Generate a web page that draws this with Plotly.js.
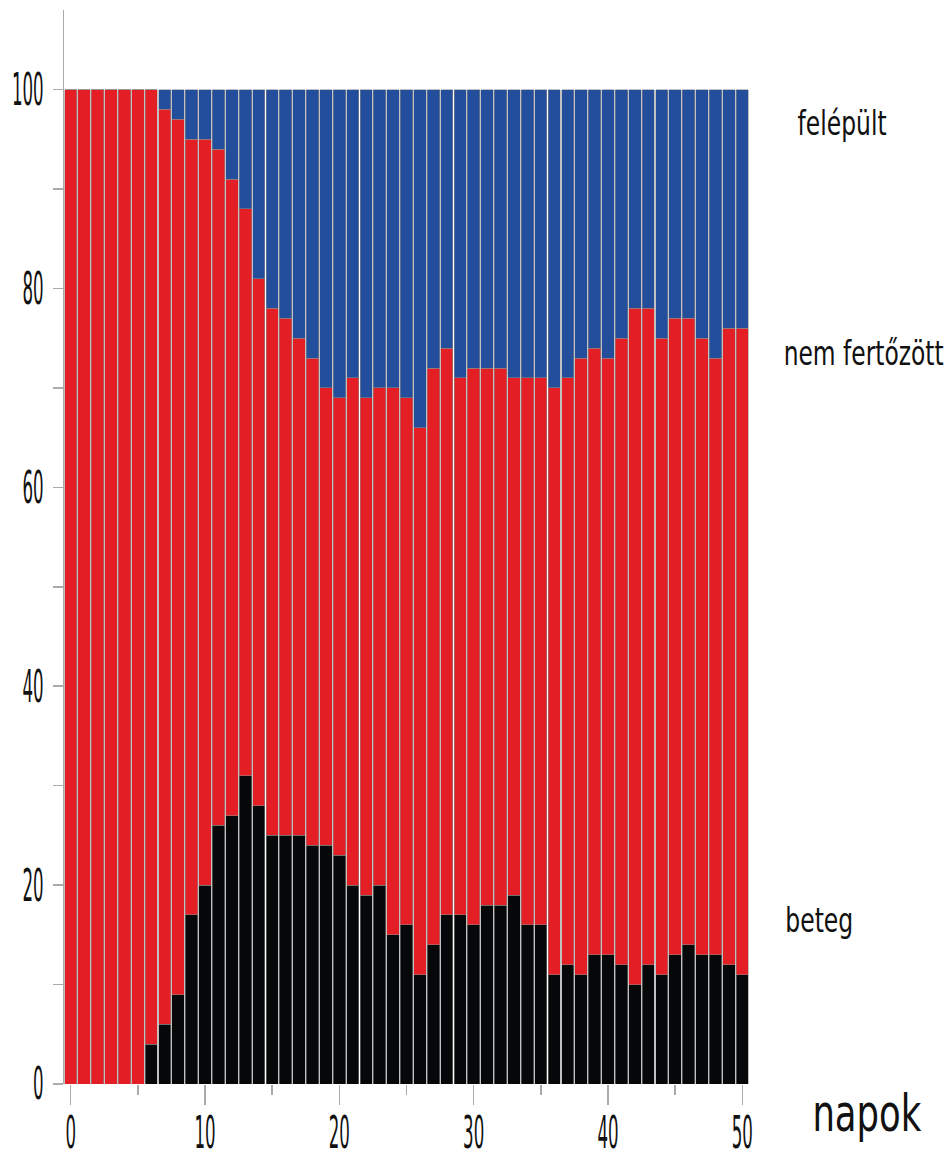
<!DOCTYPE html>
<html>
<head>
<meta charset="utf-8">
<script src="https://cdn.plot.ly/plotly-3.0.1.min.js"></script>
<style>body{margin:0;background:#fff}#chart{width:952px;height:1158px}</style>
</head>
<body>
<div id="chart"></div>
<script>
const napok = Array.from({length: 51}, (_, i) => i);
const beteg = [0,0,0,0,0,0,4,6,9,17,20,26,27,31,28,25,25,25,24,24,23,20,19,20,15,16,11,14,17,17,16,18,18,19,16,16,11,12,11,13,13,12,10,12,11,13,14,13,13,12,11];
const nemFertozott = [100,100,100,100,100,100,96,92,88,78,75,68,64,57,53,53,52,50,49,46,46,51,50,50,55,53,55,58,57,54,56,54,54,52,55,55,59,59,62,61,60,63,68,66,64,64,63,62,60,64,65];
const felepult = [0,0,0,0,0,0,0,2,3,5,5,6,9,12,19,22,23,25,27,30,31,29,31,30,30,31,34,28,26,29,28,28,28,29,29,29,30,29,27,26,27,25,22,22,25,23,23,25,27,24,24];
const seriesNames = ['beteg', 'nem fertőzött', 'felépült'];
const seriesColors = ['#050708', '#e31e24', '#224e9c'];
const xTicks = [0, 10, 20, 30, 40, 50];
const yTicks = [0, 20, 40, 60, 80, 100];

const FONT = '"Liberation Sans Narrow", "DejaVu Sans Condensed", "DejaVu Sans", sans-serif';
const values = [beteg, nemFertozott, felepult];
const traces = values.map((v, k) => ({
  type: 'bar', x: napok, y: v, name: seriesNames[k],
  marker: {color: seriesColors[k], line: {color: 'rgba(140,140,140,0.9)', width: 0.6}},
  hoverinfo: 'x+y+name'
}));

const W = 952, H = 1158, L = 64, R = 749, T = 10, B = 1084;
const px = p => (p - L) / (R - L);
const py = p => (B - p) / (B - T);
const labelFont = {family: FONT, size: 34, color: '#111'};

// target rendered widths (px) of the side labels
const labelWidths = {'felépült': 89, 'nem fertőzött': 160, 'beteg': 68, 'napok': 109};

const layout = {
  width: W, height: H,
  margin: {l: L, r: W - R, t: T, b: H - B, pad: 0},
  paper_bgcolor: '#fff', plot_bgcolor: '#fff',
  barmode: 'stack', bargap: 0.08,
  showlegend: false,
  xaxis: {
    range: [-0.5, 50.5], tickmode: 'array', tickvals: xTicks, ticktext: xTicks.map(String),
    ticks: 'outside', ticklen: 20, tickcolor: '#aaa', tickwidth: 1.5, ticklabelstandoff: -10,
    minor: {tickmode: 'array', tickvals: [5, 15, 25, 35, 45], ticks: 'outside', ticklen: 10, tickcolor: '#aaa', tickwidth: 1.5},
    showgrid: false, zeroline: false, showline: false,
    tickfont: {family: FONT, size: 44, color: '#111'}
  },
  yaxis: {
    range: [0, 108], tickmode: 'array', tickvals: yTicks, ticktext: yTicks.map(String),
    ticks: 'outside', ticklen: 10, tickcolor: '#aaa', tickwidth: 1.5,
    minor: {tickmode: 'array', tickvals: [10, 30, 50, 70, 90], ticks: 'outside', ticklen: 10, tickcolor: '#aaa', tickwidth: 1.5},
    showgrid: false, zeroline: false, showline: true, linecolor: '#aaa', linewidth: 1.5,
    tickfont: {family: FONT, size: 44, color: '#111'}
  },
  annotations: [
    {text: 'felépült', x: px(842), y: py(123), xref: 'paper', yref: 'paper', xanchor: 'center', yanchor: 'middle', showarrow: false, font: labelFont},
    {text: 'nem fertőzött', x: px(863), y: py(353), xref: 'paper', yref: 'paper', xanchor: 'center', yanchor: 'middle', showarrow: false, font: labelFont},
    {text: 'beteg', x: px(819), y: py(920), xref: 'paper', yref: 'paper', xanchor: 'center', yanchor: 'middle', showarrow: false, font: labelFont},
    {text: 'napok', x: px(867), y: py(1113), xref: 'paper', yref: 'paper', xanchor: 'center', yanchor: 'middle', showarrow: false, font: {family: FONT, size: 52, color: '#111'}}
  ]
};

function squeeze(el, target) {
  const w = el.getComputedTextLength();
  if (w > 0 && target < w) {
    el.setAttribute('textLength', target);
    el.setAttribute('lengthAdjust', 'spacingAndGlyphs');
  }
}

Plotly.newPlot('chart', traces, layout, {displayModeBar: false, staticPlot: true}).then(gd => {
  // the reference uses a very condensed face; compress the glyphs horizontally
  gd.querySelectorAll('.xtick text, .ytick text').forEach(t => squeeze(t, t.getComputedTextLength() * 0.42));
  gd.querySelectorAll('.annotation text').forEach(t => {
    const key = t.textContent;
    if (labelWidths[key]) squeeze(t, labelWidths[key]);
  });
});
</script>
</body>
</html>
